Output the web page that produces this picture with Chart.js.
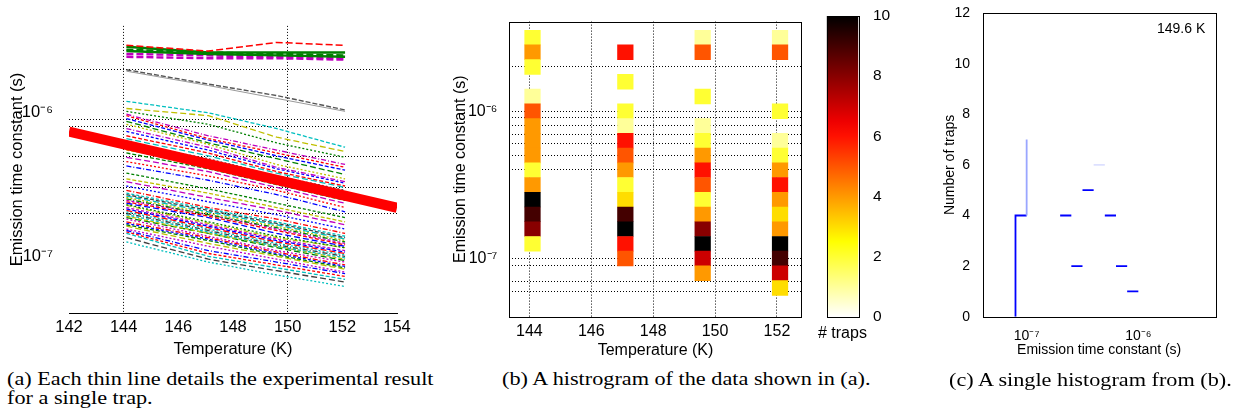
<!DOCTYPE html>
<html>
<head>
<meta charset="utf-8">
<script src="https://cdn.jsdelivr.net/npm/chart.js@4.4.0/dist/chart.umd.min.js"></script>
<style>
  html, body { margin: 0; padding: 0; background: #fff; }
  body { width: 1242px; height: 419px; position: relative; overflow: hidden; font-family: "Liberation Sans", Arial, sans-serif; }
  canvas { position: absolute; top: 0; }
  .cap { position: absolute; font-family: "Liberation Serif", "Times New Roman", serif; font-size: 19.5px; line-height: 18.5px;
         color: #000; white-space: nowrap; transform: scaleX(1.14); transform-origin: 0 0; }
  #tempTag { position: absolute; left: 1157px; top: 20px; font-size: 14px; line-height: 16px; color: #000; }
  #barTitle { position: absolute; left: 818px; top: 324px; font-size: 16px; line-height: 18px; color: #000; white-space: nowrap; }
</style>
</head>
<body>
<canvas id="chartA" width="430" height="362" style="left:0px;width:430px;height:362px"></canvas>
<canvas id="chartB" width="385" height="362" style="left:440px;width:385px;height:362px"></canvas>
<canvas id="chartBar" width="85" height="362" style="left:815px;width:85px;height:362px"></canvas>
<canvas id="chartC" width="322" height="362" style="left:920px;width:322px;height:362px"></canvas>
<div id="tempTag">149.6 K</div>
<div id="barTitle"># traps</div>
<div class="cap" style="left:7px;top:370px">(a) Each thin line details the experimental result<br>for a single trap.</div>
<div class="cap" style="left:502px;top:370px">(b) A histrogram of the data shown in (a).</div>
<div class="cap" style="left:949px;top:371px">(c) A single histogram from (b).</div>
<script>
/* ========== DADOS ========== */
// temperaturas medidas (K)
const temps = [144.1, 147.1, 149.6, 152.1];

// log10 da constante de tempo (s) de cada armadilha, nas 4 temperaturas
const trapsTop = [
    [-5.53, -5.57, -5.51, -5.53],
    [-5.54, -5.58, -5.58, -5.58],
    [-5.56, -5.58, -5.59, -5.60],
    [-5.57, -5.59, -5.60, -5.61],
    [-5.59, -5.60, -5.61, -5.62],
    [-5.61, -5.62, -5.62, -5.63]
];
const trapsSlow = [
    [-5.70, -5.80, -5.88, -5.98],
    [-5.71, -5.81, -5.90, -5.99]
];
const trapsMain = [
    [-5.92, -6.00, -6.11, -6.24], [-5.97, -6.02, -6.17, -6.27], [-5.99, -6.08, -6.21, -6.31],
    [-6.01, -6.16, -6.26, -6.36], [-6.02, -6.18, -6.28, -6.38], [-6.04, -6.19, -6.30, -6.40],
    [-6.06, -6.21, -6.32, -6.43], [-6.08, -6.22, -6.36, -6.46], [-6.11, -6.24, -6.38, -6.48],
    [-6.13, -6.26, -6.39, -6.49], [-6.16, -6.28, -6.41, -6.51], [-6.18, -6.30, -6.42, -6.52],
    [-6.21, -6.32, -6.44, -6.54], [-6.24, -6.34, -6.46, -6.57], [-6.26, -6.36, -6.48, -6.59],
    [-6.28, -6.39, -6.50, -6.61], [-6.31, -6.41, -6.52, -6.63], [-6.34, -6.44, -6.54, -6.66],
    [-6.37, -6.47, -6.57, -6.69], [-6.42, -6.53, -6.63, -6.73], [-6.46, -6.56, -6.66, -6.76],
    [-6.48, -6.59, -6.68, -6.78], [-6.51, -6.62, -6.71, -6.81], [-6.54, -6.66, -6.74, -6.84],
    [-6.56, -6.67, -6.76, -6.86], [-6.57, -6.68, -6.77, -6.87], [-6.58, -6.69, -6.78, -6.88],
    [-6.59, -6.70, -6.79, -6.89], [-6.60, -6.71, -6.80, -6.90], [-6.61, -6.71, -6.81, -6.91],
    [-6.62, -6.72, -6.82, -6.92], [-6.63, -6.73, -6.84, -6.93], [-6.64, -6.76, -6.86, -6.94],
    [-6.645, -6.77, -6.87, -6.94], [-6.66, -6.78, -6.88, -6.96], [-6.67, -6.79, -6.89, -6.97],
    [-6.68, -6.80, -6.90, -6.98], [-6.69, -6.81, -6.91, -6.99], [-6.70, -6.82, -6.92, -7.00],
    [-6.71, -6.83, -6.93, -7.01], [-6.72, -6.84, -6.93, -7.02], [-6.73, -6.84, -6.94, -7.03],
    [-6.74, -6.86, -6.96, -7.04], [-6.76, -6.87, -6.97, -7.06], [-6.77, -6.88, -6.98, -7.07],
    [-6.78, -6.89, -6.99, -7.08], [-6.79, -6.91, -7.00, -7.09], [-6.81, -6.93, -7.02, -7.11],
    [-6.82, -6.96, -7.04, -7.12], [-6.83, -6.98, -7.06, -7.14], [-6.84, -7.00, -7.08, -7.16],
    [-6.87, -7.02, -7.10, -7.18], [-6.90, -7.04, -7.13, -7.21]
];

// reta grossa vermelha
const fitTemps = [142, 154];
const fitTau = [7.4e-7, 2.18e-7];

// histograma (b): centros dos bins em log10(s) e contagens por coluna
const binLog = [-5.5, -5.6, -5.7, -5.8, -5.9, -6.0, -6.1, -6.2, -6.3, -6.4, -6.5, -6.6, -6.7, -6.8, -6.9, -7.0, -7.1, -7.2];
const counts144 = [2, 4, 2, 0, 1, 5, 4, 4, 4, 2, 4, 10, 9, 8, 2, 0, 0, 0];
const counts147 = [0, 6, 0, 2, 0, 2, 1, 6, 5, 4, 2, 3, 9, 10, 6, 5, 0, 0];
const counts149 = [1, 5, 0, 0, 2, 0, 1, 2, 4, 6, 5, 2, 4, 8, 10, 7, 4, 0];
const counts152 = [1, 5, 0, 0, 0, 2, 0, 1, 2, 4, 6, 4, 3, 4, 10, 9, 7, 3];
const colorbarMax = [10];

// ticks
const xTicksA = [142, 144, 146, 148, 150, 152, 154];
const xGridA = [144, 150];
const yTicksA = [2e-6, 1e-6, 9e-7, 8e-7, 5e-7, 3e-7, 2e-7, 1e-7];
const yGridA = [2e-6, 9e-7, 8e-7, 5e-7, 3e-7, 2e-7];
const xTicksB = [144, 146, 148, 150, 152];
const yTicksB = [2e-6, 1e-6, 9e-7, 8e-7, 7e-7, 6e-7, 5e-7, 4e-7, 1e-7, 9e-8, 7e-8, 6e-8];
const barTicks = [0, 2, 4, 6, 8, 10];
const xTicksC = [1e-7, 1e-6];
const yTicksC = [0, 2, 4, 6, 8, 10, 12];

// partes da escada (c) que aparecem na figura
const solidSteps = ['-7.1', '-6.7', '-6.6', '-6.5', '-6.3', '-6.2', '-6.1'];
const faintSteps = ['-6.4'];
const solidRises = ['-7.1'];
const faintRises = ['-7.0'];

/* ========== ESTILO ========== */
Chart.defaults.font.family = '"Liberation Sans", Arial, Helvetica, sans-serif';
Chart.defaults.color = '#000';

const topColors = ['#ff0000', '#008000', '#008000', '#008000', '#bf00bf', '#bf00bf'];
const mainColors = ['#00bfbf', '#bfbf00', '#008000', '#bf00bf', '#ff0000', '#0000ff', '#008000',
    '#bfbf00', '#bf00bf', '#0000ff', '#ff0000', '#00bfbf', '#404040'];
const dashes = [[4, 2], [6, 3], [2, 2], [5, 2, 1, 2], [3, 2]];

const SUP = { '-': '⁻', '0': '⁰', '1': '¹', '2': '²', '3': '³', '4': '⁴', '5': '⁵', '6': '⁶', '7': '⁷', '8': '⁸', '9': '⁹' };
function powLabel(v) {
    const e = Math.log10(v);
    if (Math.abs(e - Math.round(e)) > 1e-9) return '';
    return '10' + String(Math.round(e)).split('').map(c => SUP[c]).join('');
}

function hotColor(v) {
    const t = 1 - v / 10;
    const r = Math.min(1, t / 0.375);
    const g = Math.min(1, Math.max(0, (t - 0.375) / 0.375));
    const b = Math.min(1, Math.max(0, (t - 0.75) / 0.25));
    return `rgb(${Math.round(r * 255)},${Math.round(g * 255)},${Math.round(b * 255)})`;
}

const framePlugin = {
    id: 'frame',
    afterDraw(chart) {
        const { ctx, chartArea: a } = chart;
        ctx.save();
        ctx.strokeStyle = '#000';
        ctx.lineWidth = 1;
        ctx.strokeRect(Math.round(a.left) + 0.5, Math.round(a.top) + 0.5,
            Math.round(a.right - a.left), Math.round(a.bottom - a.top));
        ctx.restore();
    }
};

const base = {
    responsive: false,
    animation: false,
    events: [],
    plugins: { legend: { display: false }, tooltip: { enabled: false } }
};

/* ========== (a) LINHAS ========== */
function lineSet(row, color, dash, width) {
    return {
        data: row.map((v, i) => ({ x: temps[i], y: Math.pow(10, v) })),
        borderColor: color, borderDash: dash, borderWidth: width,
        pointRadius: 0, fill: false, tension: 0
    };
}
const dsA = [];
dsA.push({
    data: fitTemps.map((t, i) => ({ x: t, y: fitTau[i] })),
    borderColor: '#ff0000', borderWidth: 10, pointRadius: 0, fill: false, borderCapStyle: 'butt'
});
trapsTop.forEach((r, i) => dsA.push(lineSet(r, topColors[i], i === 1 || i === 3 ? [] : [7, 3], i === 0 ? 1.5 : 2.4)));
dsA.push(lineSet(trapsSlow[0], '#555555', [5, 2], 1.4));
dsA.push(lineSet(trapsSlow[1], '#999999', [], 1));
trapsMain.forEach((r, i) => dsA.push(lineSet(r, mainColors[i % mainColors.length], dashes[i % dashes.length], 1.3)));

new Chart(document.getElementById('chartA'), {
    type: 'line',
    data: { datasets: dsA },
    options: {
        ...base,
        layout: { padding: { top: 10, right: 33, left: 0, bottom: 0 } },
        scales: {
            x: {
                type: 'linear', min: 142, max: 154,
                afterBuildTicks: s => { s.ticks = xTicksA.map(v => ({ value: v })); },
                afterFit: s => { s.height = 49; },
                grid: { color: c => xGridA.includes(c.tick && c.tick.value) ? '#000' : 'rgba(0,0,0,0)', drawTicks: false },
                border: { display: true, color: '#000', width: 1, dash: [1, 2] },
                ticks: { font: { size: 16.5 }, padding: 5, maxRotation: 0, autoSkip: false },
                title: { display: true, text: 'Temperature (K)', font: { size: 16.5 }, padding: { top: 0, bottom: 3 } }
            },
            y: {
                type: 'logarithmic', min: 4.03e-8, max: 4.03e-6,
                afterBuildTicks: s => { s.ticks = yTicksA.map(v => ({ value: v })); },
                afterFit: s => { s.width = 69; },
                grid: { color: c => yGridA.includes(c.tick && c.tick.value) ? '#000' : 'rgba(0,0,0,0)', drawTicks: false },
                border: { display: false, dash: [1, 2] },
                ticks: { font: { size: 16.5 }, padding: 16, autoSkip: false, callback: v => powLabel(v) },
                title: { display: true, text: 'Emission time constant (s)', font: { size: 16.5 }, padding: { top: 8, bottom: 0 } }
            }
        }
    }
});

/* ========== (b) HISTOGRAMA 2D ========== */
const cols = [counts144, counts147, counts149, counts152];
const cells = [];
cols.forEach((cnt, ci) => {
    cnt.forEach((n, bi) => {
        if (!n) return;
        cells.push({ x: temps[ci], y: [Math.pow(10, binLog[bi] - 0.05), Math.pow(10, binLog[bi] + 0.05)], n });
    });
});

new Chart(document.getElementById('chartB'), {
    type: 'bar',
    data: {
        datasets: [{
            data: cells,
            backgroundColor: cells.map(c => hotColor(c.n)),
            borderWidth: 0,
            barThickness: 15.6
        }]
    },
    options: {
        ...base,
        layout: { padding: { top: 14, right: 23.3, left: 0, bottom: 0 } },
        scales: {
            x: {
                type: 'linear', min: 143.35, max: 152.8, z: 1, offset: false,
                afterBuildTicks: s => { s.ticks = xTicksB.map(v => ({ value: v })); },
                afterFit: s => { s.height = 45.3; },
                grid: { color: '#000', drawTicks: false, offset: false },
                border: { display: false, dash: [1, 2] },
                ticks: { font: { size: 16 }, padding: 5.5, maxRotation: 0, autoSkip: false },
                title: { display: true, text: 'Temperature (K)', font: { size: 16 }, padding: { top: 0, bottom: 1.5 } }
            },
            y: {
                type: 'logarithmic', min: 4.03e-8, max: 4.06e-6, z: 1,
                afterBuildTicks: s => { s.ticks = yTicksB.map(v => ({ value: v })); },
                afterFit: s => { s.width = 69.3; },
                grid: { color: '#000', drawTicks: false },
                border: { display: false, dash: [1, 2] },
                ticks: { font: { size: 16 }, padding: 12, autoSkip: false, callback: v => powLabel(v) },
                title: { display: true, text: 'Emission time constant (s)', font: { size: 16 }, padding: { top: 11, bottom: 0 } }
            }
        }
    },
    plugins: [framePlugin]
});

/* ========== COLORBAR ========== */
new Chart(document.getElementById('chartBar'), {
    type: 'bar',
    data: {
        labels: [''],
        datasets: [{
            data: colorbarMax,
            barPercentage: 1, categoryPercentage: 1, borderWidth: 0,
            backgroundColor: c => {
                const a = c.chart.chartArea;
                if (!a) return '#fff';
                const g = c.chart.ctx.createLinearGradient(0, a.bottom, 0, a.top);
                for (let i = 0; i <= 20; i++) g.addColorStop(i / 20, hotColor(i / 2));
                return g;
            }
        }]
    },
    options: {
        ...base,
        layout: { padding: { top: 14, right: 0, left: 11.7, bottom: 0 } },
        scales: {
            x: {
                afterFit: s => { s.height = 45.3; },
                grid: { display: false }, border: { display: false },
                ticks: { display: false }
            },
            y: {
                position: 'right', min: 0, max: 10,
                afterBuildTicks: s => { s.ticks = barTicks.map(v => ({ value: v })); },
                afterFit: s => { s.width = 41.7; },
                grid: { display: false }, border: { display: false },
                ticks: { font: { size: 15.5 }, padding: 6.7, autoSkip: false }
            }
        }
    },
    plugins: [framePlugin]
});

/* ========== (c) HISTOGRAMA 149.6 K ========== */
const asc = binLog.map((b, i) => ({ b, n: counts149[i] })).reverse();
const stairs = [];
asc.forEach((p, i) => {
    stairs.push({ x: Math.pow(10, p.b), y: p.n });
    if (i < asc.length - 1) stairs.push({ x: Math.pow(10, asc[i + 1].b), y: p.n });
});

function stairColor(ctx) {
    const j = ctx.p0DataIndex;
    const key = asc[Math.ceil(j / 2)].b.toFixed(1);
    if (j % 2 === 0) {
        if (solidSteps.includes(key)) return '#0000ff';
        if (faintSteps.includes(key)) return '#dde0ff';
    } else {
        if (solidRises.includes(key)) return '#0000ff';
        if (faintRises.includes(key)) return '#9aa6ff';
    }
    return 'rgba(0,0,0,0)';
}

new Chart(document.getElementById('chartC'), {
    type: 'line',
    data: {
        datasets: [{
            data: stairs, borderWidth: 1.8, pointRadius: 0, fill: false,
            borderColor: '#0000ff', segment: { borderColor: stairColor }
        }]
    },
    options: {
        ...base,
        layout: { padding: { top: 10, right: 26.3, left: 0, bottom: 0 } },
        scales: {
            x: {
                type: 'logarithmic', min: 4.04e-8, max: 4.93e-6,
                afterBuildTicks: s => { s.ticks = xTicksC.map(v => ({ value: v })); },
                afterFit: s => { s.height = 45.3; },
                grid: { display: false }, border: { display: false },
                ticks: { font: { size: 14 }, padding: 3, maxRotation: 0, autoSkip: false, callback: v => powLabel(v) },
                title: { display: true, text: 'Emission time constant (s)', font: { size: 14 }, padding: { top: 0, bottom: 3.6 } }
            },
            y: {
                type: 'linear', min: 0, max: 12,
                afterBuildTicks: s => { s.ticks = yTicksC.map(v => ({ value: v })); },
                afterFit: s => { s.width = 62.7; },
                grid: { display: false }, border: { display: false },
                ticks: { font: { size: 14 }, padding: 4.7, autoSkip: false },
                title: { display: true, text: 'Number of traps', font: { size: 14 }, padding: { top: 21.6, bottom: 0 } }
            }
        }
    },
    plugins: [framePlugin]
});
</script>
</body>
</html>
